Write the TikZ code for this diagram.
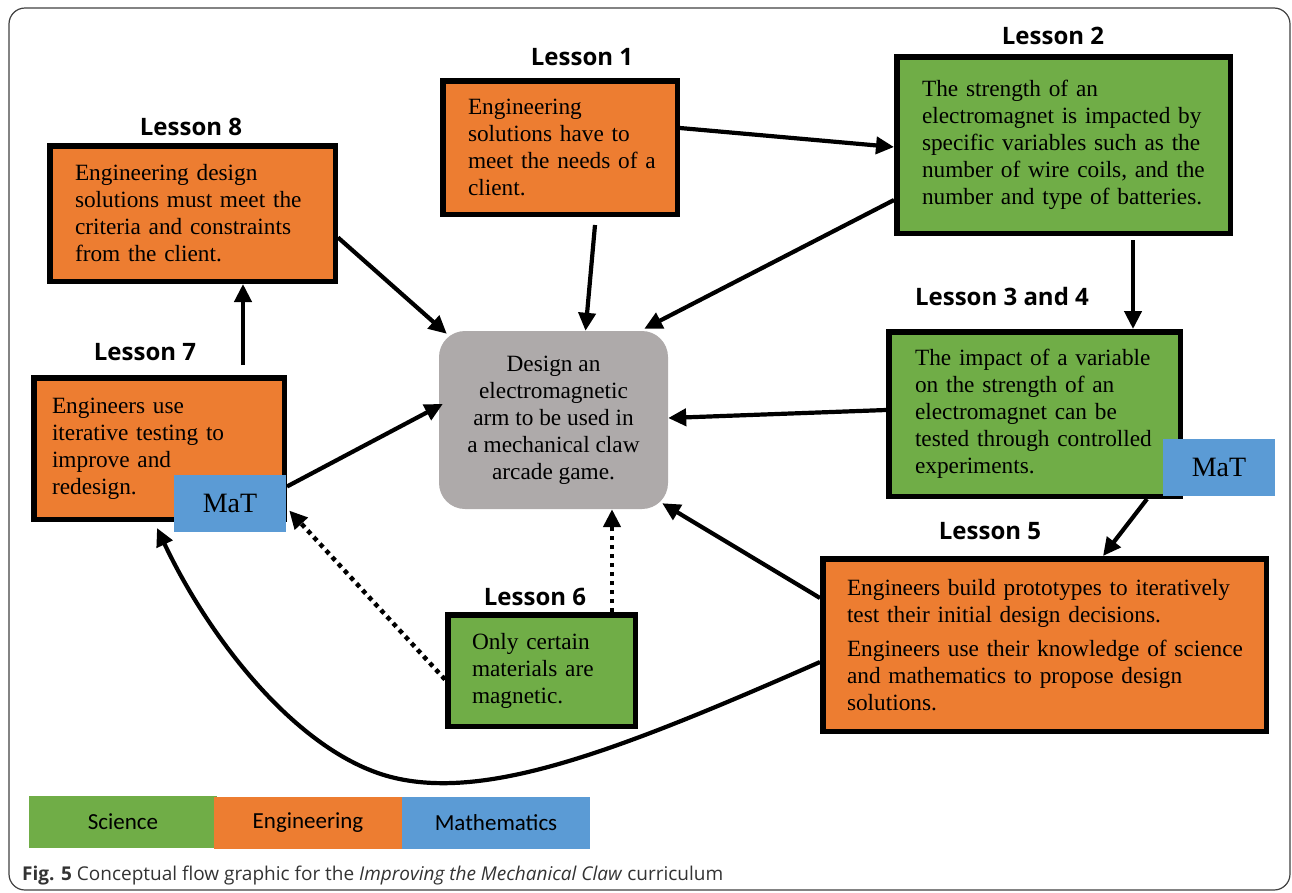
\documentclass[tikz,border=0pt]{standalone}
\usepackage{fontspec}
\setmainfont{Liberation Serif}
\newfontfamily\headfont{Open Sans}
\newfontfamily\legfont{Carlito}
\usetikzlibrary{arrows.meta,calc}
\definecolor{eng}{HTML}{ED7D31}
\definecolor{sci}{HTML}{70AD47}
\definecolor{matc}{HTML}{5B9BD5}
\definecolor{core}{HTML}{AEAAAA}
\newcommand\nb[1]{\mbox{#1}}
\begin{document}
\begin{tikzpicture}[x=1pt,y=-1pt,
  lbox/.style={draw=black, line width=5.5pt, inner ysep=0pt, align=left,
    font=\fontsize{23.3}{27}\selectfont},
  corebox/.style={fill=core, rounded corners=26pt, align=center, inner sep=0pt,
    minimum width=229pt, minimum height=178pt, font=\fontsize{23.3}{27}\selectfont},
  matbox/.style={fill=matc, inner sep=0pt, minimum width=112pt, minimum height=57pt,
    font=\fontsize{28}{30}\selectfont},
  head/.style={font=\headfont\bfseries\fontsize{24}{26}\selectfont, inner sep=0pt},
  legbox/.style={inner sep=0pt, minimum height=52pt, font=\legfont\fontsize{23}{25}\selectfont},
  conn/.style={line width=4.2pt, -{Triangle[length=18pt,width=17pt]}},
  dconn/.style={line width=4.5pt, dash pattern=on 4.5pt off 4.5pt, -{Triangle[length=18pt,width=17pt]}}
]
\useasboundingbox (0,0) rectangle (1292,892);
\draw[black!75, line width=1.2pt, rounded corners=16pt] (9,8) rectangle (1290,890);

% headings
\node[head] (h1) at (582,57) {Lesson 1};
\node[head] (h2) at (1053,36) {Lesson 2};
\node[head] (h8) at (191,127) {Lesson 8};
\node[head] (h7) at (145,352) {Lesson 7};
\node[head] (h34) at (1002,296) {Lesson 3 and 4};
\node[head] (h5) at (990,531) {Lesson 5};
\node[head] (h6) at (535,597) {Lesson 6};

% boxes
\node[lbox, fill=eng, minimum width=234.5pt, minimum height=133.5pt, text width=184pt, inner xsep=25.25pt] (l1) at (560,147.5)
  {\nb{Engineering}\\ \nb{solutions have to}\\ \nb{meet the needs of a}\\ \nb{client.}};
\node[lbox, fill=sci, minimum width=333.5pt, minimum height=176.5pt, text width=283pt, inner xsep=25.25pt] (l2) at (1063.5,145)
  {\nb{The strength of an}\\ \nb{electromagnet is impacted by}\\ \nb{specific variables such as the}\\ \nb{number of wire coils, and the}\\ \nb{number and type of batteries.}};
\node[lbox, fill=eng, minimum width=285.5pt, minimum height=135.5pt, text width=235pt, inner xsep=25.25pt] (l8) at (192.5,213.5)
  {\nb{Engineering design}\\ \nb{solutions must meet the}\\ \nb{criteria and constraints}\\ \nb{from the client.}};
\node[lbox, fill=eng, minimum width=250.5pt, minimum height=141.5pt, text width=214pt, inner xsep=18.25pt] (l7) at (159,448.5)
  {\nb{Engineers use}\\ \nb{iterative testing to}\\ \nb{improve and}\\ \nb{redesign.}};
\node[lbox, fill=sci, minimum width=291.5pt, minimum height=164.5pt, text width=239pt, inner xsep=26.25pt] (l34) at (1034.5,414)
  {\nb{The impact of a variable}\\ \nb{on the strength of an}\\ \nb{electromagnet can be}\\ \nb{tested through controlled}\\ \nb{experiments.}};
\node[lbox, fill=eng, minimum width=443.5pt, minimum height=172.5pt, text width=395pt, inner xsep=24.25pt] (l5) at (1044.5,645)
  {\nb{Engineers build prototypes to iteratively}\\ \nb{test their initial design decisions.}\\[7pt] \nb{Engineers use their knowledge of science}\\ \nb{and mathematics to propose design}\\ \nb{solutions.}};
\node[lbox, fill=sci, minimum width=187.5pt, minimum height=111.5pt, text width=139pt, inner xsep=24.25pt] (l6) at (541.5,670.5)
  {\nb{Only certain}\\ \nb{materials are}\\ \nb{magnetic.}};
\node[corebox] (c) at (553.5,420)
  {Design an\\ electromagnetic\\ arm to be used in\\ a mechanical claw\\ arcade game.};
\node[matbox] (m7) at (230,503.5) {MaT};
\node[matbox] (m34) at (1219,467) {MaT};

% connectors
\draw[conn] ([yshift=19.5pt]l1.east) -- ([yshift=-2pt]l2.west);
\draw[conn] ([xshift=35pt,yshift=-8pt]l1.south) -- ([xshift=32pt]c.north);
\draw[conn] ([yshift=-55pt]l2.west) -- ([xshift=-24pt,yshift=2pt]c.north east);
\draw[conn] ([xshift=69.5pt,yshift=-4pt]l2.south) -- ([xshift=69.5pt]l2.south |- l34.north);
\draw[conn] ([yshift=-24pt]l8.east) -- ([xshift=8pt,yshift=-3pt]c.north west);
\draw[conn] ([xshift=84pt,yshift=10pt]l7.north) -- ([xshift=84pt]l7.north |- l8.south);
\draw[conn] ([yshift=-38pt]l7.east) -- ([xshift=4pt,yshift=16pt]c.west);
\draw[conn] ([yshift=4pt]l34.west) -- ([yshift=2pt]c.east);
\draw[conn] ([xshift=112.5pt]l34.south) -- ([xshift=58.5pt]l5.north);
\draw[conn] ([yshift=47pt]l5.west) -- ([xshift=-6pt,yshift=6pt]c.south east);
\draw[conn] ([yshift=-17pt]l5.west) .. controls (620,750) and (490,800) .. (395,778)
   .. controls (300,756) and (210,640) .. ([xshift=-2pt,yshift=-6pt]l7.south);
\draw[dconn] ([yshift=-9pt]l6.west) -- ([xshift=3pt,yshift=-7pt]m7.east);
\draw[dconn] ([xshift=70.5pt]l6.north) -- ([xshift=70.5pt]l6.north |- c.south);

% legend
\node[legbox, fill=sci, minimum width=188pt] (ls) at (123,821.5) {Science};
\node[legbox, fill=eng, minimum width=188pt] (le) at (308,823) {Engineering};
\node[legbox, fill=matc, minimum width=188pt] (lm) at (496,823) {Mathematics};

% caption
\node[anchor=base west, inner sep=0pt, font=\headfont\fontsize{19}{21}\selectfont, text=black!80] (cap) at (22,880)
  {\textbf{Fig. 5} Conceptual flow graphic for the \textit{Improving the Mechanical Claw} curriculum};
\end{tikzpicture}
\end{document}
